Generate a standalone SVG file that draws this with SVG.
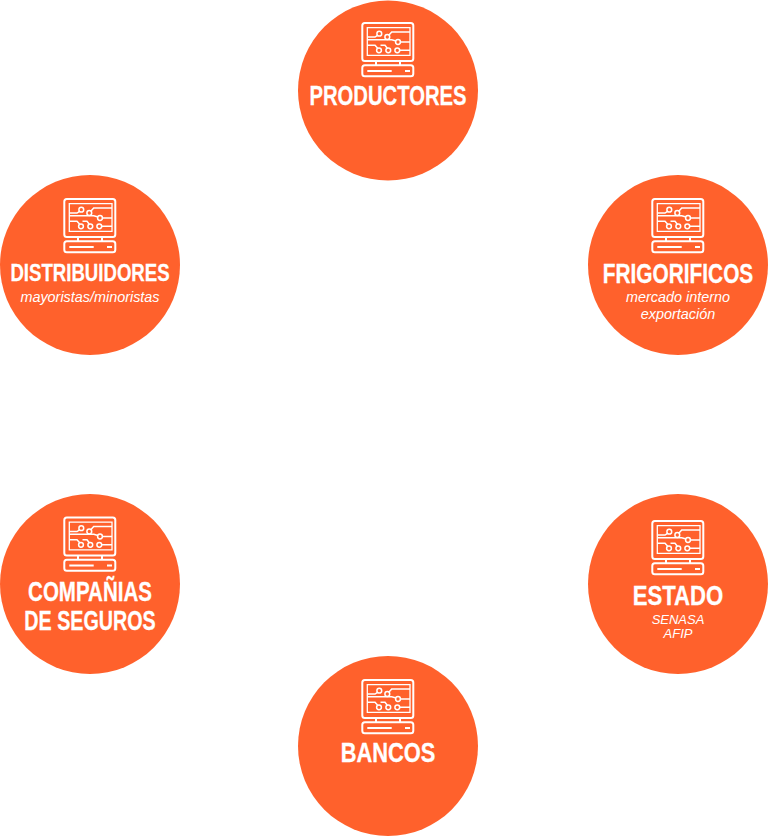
<svg xmlns="http://www.w3.org/2000/svg" width="768" height="836" viewBox="0 0 768 836">
<style>
.c{fill:#ff612c}
.t{font-family:"Liberation Sans",Arial,sans-serif;font-weight:700;font-size:27px;fill:#fff;stroke:#fff;stroke-width:.3;text-anchor:middle}
.s{font-family:"Liberation Sans",Arial,sans-serif;font-style:italic;font-size:14.4px;fill:#fff;text-anchor:middle}
.n{font-size:13px}
.i{fill:none;stroke:#fff}
</style>
<defs>
<g id="ic" class="i" stroke-width="1.500">
<rect x="-25.700" y="0" width="51" height="38" rx="2.500" stroke-width="2"/>
<path d="M-20.700 32.300V4.700H22V32.300Z" stroke-width="1.300"/>
<path d="M-12 38v4.300M12 38v4.300" stroke-width="2"/>
<rect x="-25.700" y="42.300" width="51" height="11" rx="2.500" stroke-width="2"/>
<path d="M-20.700 48H3.700M17 48h5" stroke-width="1.800"/>
<path d="M-20.700 14H-13l2.500-1.700M.8 12.300L3.700 9H22M-20.700 16.800H3.800L8 18M12.400 19H22M-20.700 22.300H-13l2.700 3M-7.500 22.300h4.500l2.300 3M11.700 27.300H22"/>
<circle cx="-8.700" cy="10.700" r="2.400"/><circle cx="-.7" cy="14" r="2.400"/><circle cx="10" cy="19" r="2.400"/><circle cx="-9" cy="27.300" r="2.400"/><circle cx=".3" cy="27.300" r="2.400"/><circle cx="9.300" cy="27.300" r="2.400"/>
</g>
</defs>
<g id="connectors"/>
<g id="productores"><circle class="c" cx="388" cy="90.500" r="90"/><use href="#ic" x="388" y="23"/><text class="t" transform="translate(388 105) scale(.75 1)">PRODUCTORES</text></g>
<g id="frigorificos"><circle class="c" cx="678" cy="265" r="90"/><use href="#ic" x="678" y="199"/><text class="t" transform="translate(678 283) scale(.772 1)">FRIGORIFICOS</text><text class="s" x="678" y="302">mercado interno</text><text class="s" x="678" y="319">exportación</text></g>
<g id="distribuidores"><circle class="c" cx="90" cy="265" r="90"/><use href="#ic" x="90" y="199"/><text class="t" style="font-size:24.500px" transform="translate(90 280.500) scale(.76 1)">DISTRIBUIDORES</text><text class="s" x="90" y="302">mayoristas/minoristas</text></g>
<g id="companias"><circle class="c" cx="90" cy="584" r="90"/><use href="#ic" x="90" y="517.500"/><text class="t" transform="translate(90 601) scale(.76 1)">COMPAÑIAS</text><text class="t" transform="translate(90 630) scale(.73 1)">DE SEGUROS</text></g>
<g id="estado"><circle class="c" cx="678" cy="584" r="90"/><use href="#ic" x="678" y="521"/><text class="t" transform="translate(678 605) scale(.82 1)">ESTADO</text><text class="s n" x="678" y="624">SENASA</text><text class="s n" x="678" y="638">AFIP</text></g>
<g id="bancos"><circle class="c" cx="388" cy="746" r="90"/><use href="#ic" x="388" y="680"/><text class="t" transform="translate(388 762) scale(.81 1)">BANCOS</text></g>
</svg>
